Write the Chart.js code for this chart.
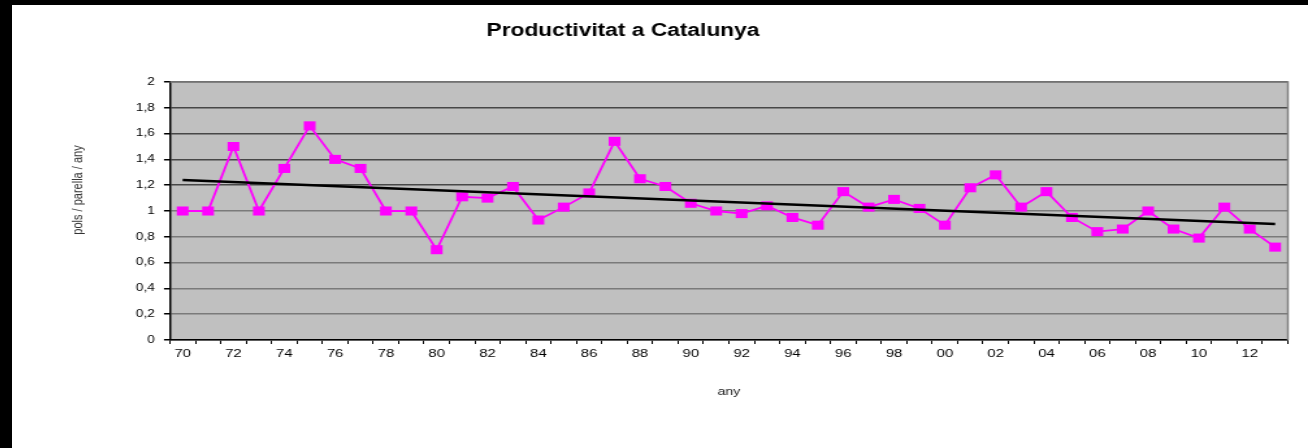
<!DOCTYPE html>
<html>
<head>
<meta charset="utf-8">
<script src="https://cdn.jsdelivr.net/npm/chart.js@4/dist/chart.umd.min.js"></script>
<style>
  html, body { margin: 0; padding: 0; background: #000; }
  #sheet { position: absolute; left: 12px; top: 5px; width: 1296px; height: 443px; background: #fff; }
  #chart { position: absolute; left: 0; top: 0; }
</style>
</head>
<body>
<div id="sheet">
  <!-- the source picture is stretched sideways, so the canvas is drawn narrower and widened by css -->
  <canvas id="chart" width="997" height="443" style="width:1296px;height:443px"></canvas>
</div>
<script>
const years = ['70', '71', '72', '73', '74', '75', '76', '77', '78', '79',
  '80', '81', '82', '83', '84', '85', '86', '87', '88', '89',
  '90', '91', '92', '93', '94', '95', '96', '97', '98', '99',
  '00', '01', '02', '03', '04', '05', '06', '07', '08', '09',
  '10', '11', '12', '13'];

const productivity = [1.0, 1.0, 1.5, 1.0, 1.33, 1.66, 1.4, 1.33, 1.0, 1.0,
  0.7, 1.11, 1.1, 1.19, 0.93, 1.03, 1.14, 1.54, 1.25, 1.19,
  1.06, 1.0, 0.98, 1.04, 0.95, 0.89, 1.15, 1.03, 1.09, 1.02,
  0.89, 1.18, 1.28, 1.03, 1.15, 0.95, 0.84, 0.86, 1.0, 0.86,
  0.79, 1.03, 0.86, 0.72];

// tendència lineal: extrems
const trendYears = ['70', '13'];
const trendValues = [1.24, 0.90];

const yTickLabels = ['0', '0,2', '0,4', '0,6', '0,8', '1', '1,2', '1,4', '1,6', '1,8', '2'];

const chartTitle = 'Productivitat a Catalunya';
const yTitle = 'pols / parella / any';
const xTitle = 'any';

const FONT = "'Liberation Sans', Arial, sans-serif";

// fons gris de l'àrea i vores de dalt i dreta
const plotFrame = {
  id: 'plotFrame',
  beforeDraw(chart) {
    const { ctx, chartArea: a } = chart;
    ctx.save();
    ctx.fillStyle = '#c0c0c0';
    ctx.fillRect(a.left, a.top, a.right - a.left, a.bottom - a.top);
    ctx.restore();
  },
  beforeDatasetsDraw(chart) {
    const { ctx, chartArea: a } = chart;
    ctx.save();
    ctx.strokeStyle = '#808080';
    ctx.lineWidth = 1.5;
    ctx.beginPath();
    ctx.moveTo(a.left, a.top);
    ctx.lineTo(a.right, a.top);
    ctx.lineTo(a.right, a.bottom);
    ctx.stroke();
    ctx.restore();
  }
};

// títol i etiqueta de l'eix y
const texts = {
  id: 'texts',
  afterDraw(chart) {
    const ctx = chart.ctx;
    ctx.save();
    ctx.fillStyle = '#000';
    ctx.font = 'bold 17.5px ' + FONT;
    ctx.textAlign = 'center';
    ctx.textBaseline = 'middle';
    ctx.fillText(chartTitle, 470, 26);

    ctx.translate(51, 185);
    ctx.rotate(-Math.PI / 2);
    ctx.fillStyle = '#333';
    ctx.font = '11px ' + FONT;
    ctx.fillText(yTitle, 0, 0);
    ctx.restore();
  }
};

new Chart(document.getElementById('chart'), {
  type: 'line',
  data: {
    labels: years,
    datasets: [
      {
        data: trendYears.map((y, i) => ({ x: y, y: trendValues[i] })),
        borderColor: '#000',
        borderWidth: 2.5,
        pointRadius: 0,
        order: 0,
      },
      {
        data: productivity,
        borderColor: '#ff00ff',
        borderWidth: 1.8,
        pointStyle: 'rect',
        pointRadius: 6.4,
        pointBackgroundColor: '#ff00ff',
        pointBorderWidth: 0,
        order: 1,
      },
    ],
  },
  options: {
    responsive: false,
    animation: false,
    events: [],
    layout: {
      padding: { left: 0, right: 15.5, top: 77, bottom: 0 },
    },
    plugins: {
      legend: { display: false },
      tooltip: { enabled: false },
      title: { display: false },
    },
    scales: {
      x: {
        offset: true,
        grid: {
          offset: true,
          drawOnChartArea: false,
          tickLength: 4,
          color: '#000',
        },
        border: { color: '#000', width: 1.5 },
        ticks: {
          autoSkip: false,
          maxRotation: 0,
          padding: 3,
          color: '#000',
          font: { family: FONT, size: 11.5 },
          callback: (v, i) => (i % 2 === 0 ? years[i] : ''),
        },
        title: {
          display: true,
          text: xTitle,
          color: '#222',
          font: { family: FONT, size: 11 },
          padding: { top: 0, bottom: 49 },
        },
        afterFit(scale) {
          scale.height = 108;
        },
      },
      y: {
        min: 0,
        max: 2,
        ticks: {
          stepSize: 0.2,
          padding: 7,
          color: '#000',
          font: { family: FONT, size: 10.5 },
          callback: (v, i) => yTickLabels[i],
        },
        grid: {
          tickLength: 4.6,
          tickColor: '#000',
          lineWidth: 1.5,
          color: (c) => (c.tick && c.tick.value > 1.05 ? '#474747' : '#7a7a7a'),
        },
        border: { color: '#000', width: 1.5 },
        afterFit(scale) {
          scale.width = 121.5;
        },
      },
    },
  },
  plugins: [plotFrame, texts],
});
</script>
</body>
</html>
